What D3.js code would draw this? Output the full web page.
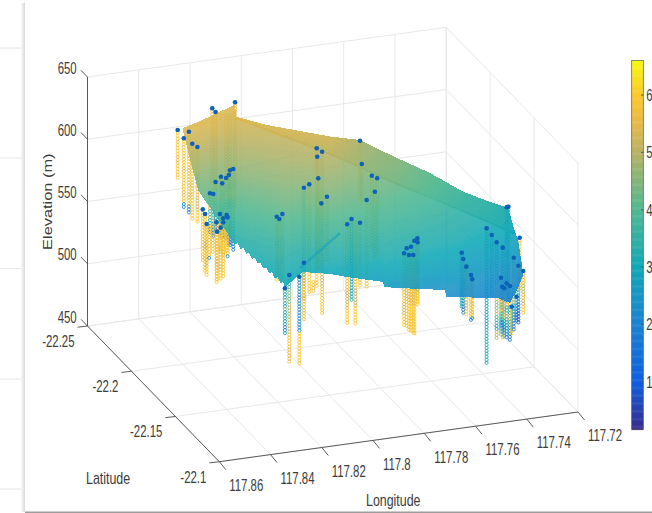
<!DOCTYPE html>
<html><head><meta charset="utf-8">
<script src="https://cdn.jsdelivr.net/npm/d3@7"></script>
<style>html,body{margin:0;padding:0;background:#fff;overflow:hidden}svg{display:block}text{font-family:"Liberation Sans",Arial,sans-serif;fill:#3c3c3c}</style>
</head><body><div id="chart"></div>
<script>
// ---- axis ticks
const lonTicks=[117.86,117.84,117.82,117.8,117.78,117.76,117.74,117.72];
const latTicks=[-22.25,-22.2,-22.15,-22.1];
const zTicks=[450,500,550,600,650];
const colorTicks=[1,2,3,4,5,6];
// ---- colour bar reading: value -> colour
const colorStopValues=[0.17,1,2,3,4,5,5.5,6,6.6];
const colorStopColors=["#3a2b8e","#0d5ee0","#1a82d2","#10a8b8","#50b890","#b8b264","#e8b848","#fbc82c","#f8f812"];
// ---- surface edges [lon, lat, elevation, colour value]
const mainTopEdge=[
[117.8330,-22.22,623.1,5.4],[117.8272,-22.22,626.3,5.4],[117.8205,-22.22,630.8,5.4],[117.8139,-22.22,635.4,5.4],
[117.8127,-22.22,635.8,5.4],[117.8123,-22.22,626.1,5.3],[117.8037,-22.22,617.2,5.2],
[117.8035,-22.19,630.5,5.1],[117.7965,-22.19,622.9,5.05],[117.7859,-22.19,611.4,5.0],[117.7793,-22.19,603.9,4.75],[117.7652,-22.19,586.3,4.35],
[117.7513,-22.16,583.2,3.65],[117.7307,-22.16,559.6,3.05],[117.7267,-22.16,554.5,2.95],[117.7240,-22.16,552.1,2.9],[117.7228,-22.16,545.4,2.7],[117.7209,-22.16,519.1,2.4]];
const mainBottomEdge=[
[117.8330,-22.22,620.7,5.4],[117.8272,-22.22,571.7,4.3],[117.8205,-22.22,549.7,3.8],[117.8139,-22.22,527.7,3.35],
[117.8128,-22.22,524.0,3.3],[117.8117,-22.22,524.4,3.3],[117.8106,-22.22,519.6,3.25],[117.8094,-22.22,519.9,3.25],[117.8083,-22.22,515.0,3.2],[117.8072,-22.22,515.4,3.2],
[117.8061,-22.22,510.5,3.15],[117.8050,-22.22,510.8,3.15],[117.8039,-22.22,506.0,3.1],[117.8028,-22.22,506.3,3.1],[117.8017,-22.22,501.4,3.05],[117.8005,-22.22,501.8,3.05],
[117.7995,-22.22,496.9,3.0],[117.7983,-22.22,497.3,3.0],[117.7972,-22.22,492.4,3.0],[117.7961,-22.22,492.8,2.95],[117.7950,-22.22,487.9,2.95],[117.7939,-22.22,488.2,2.95],[117.7932,-22.22,484.1,2.95],
[117.8068,-22.16,543.6,3.0],[117.7962,-22.16,539.0,2.95],[117.7896,-22.16,534.7,2.9],[117.7755,-22.16,526.7,2.7],[117.7751,-22.16,522.5,2.7],[117.7689,-22.16,519.9,2.6],
[117.7513,-22.16,513.3,2.4],[117.7509,-22.16,507.6,2.35],[117.7307,-22.16,501.0,2.05],[117.7260,-22.16,495.7,2.0],[117.7232,-22.16,505.3,2.0],[117.7209,-22.16,515.9,2.2]];
const bandTopEdge=[
[117.8119,-22.22,626.0,5.4],[117.8105,-22.19,640.9,5.35],[117.7859,-22.19,624.7,5.25],[117.7742,-22.19,618.5,4.85],[117.7691,-22.19,611.7,4.7],[117.7598,-22.19,600.0,4.5],
[117.7572,-22.16,609.0,4.1],[117.7443,-22.16,590.3,3.7],[117.7326,-22.16,577.9,3.4],[117.7267,-22.16,572.2,3.2],[117.7240,-22.16,552.1,3.0]];
const bandBottomEdge=[
[117.8119,-22.22,625.6,5.4],[117.8105,-22.19,637.7,5.25],[117.7859,-22.19,611.4,5.0],[117.7742,-22.19,597.7,4.7],[117.7691,-22.19,591.0,4.5],[117.7598,-22.19,579.9,4.3],
[117.7572,-22.16,590.5,3.95],[117.7443,-22.16,575.6,3.5],[117.7326,-22.16,561.8,3.25],[117.7267,-22.16,554.5,3.05],[117.7240,-22.16,551.7,3.0]];
// ---- fold lines on the surface [lon1, elev1, lon2, elev2, colour value, width, opacity] at lat -22.16
const surfaceFolds=[[117.8079,547.1,117.7923,570.8,2.7,2.6,0.5],[117.8313,634.1,117.8091,638.2,4.0,0.8,0.16],[117.7506,579.8,117.7506,514.7,2.0,0.8,0.16]];
// ---- colour sequences down a borehole
const Y=[6,5.8,6,5.6,6,5.9];
const YO=[5.5,5.9,5,5.7,5.2,6];
const YB=[6,5.8,6,5.7,6,5.5,6,5.8,6,5.6,6,2.2];
const T=[3,3.2,2.9,3.1];
const BY=[2,2.3,1.9,2.5,2.1,2.3,2,6,6,5.8,6];
const TM=[3.5,3,4.2,3.2,4.6,3,3.4,2.6,1.9,3];
const GY=[3.5,4.5,5,5.3,5.8,5.6];
const M=[5,4.2,5.5,3.4,4.5,3,2.5,1.8];
const RM=[5,5,5,4.5,5.5,5,4.5,5.5,4,3,2,2.5,4.5];
const RT=[3,3,3,3,3,3,5.5,5.5,4.5,5,3.5,2.5,5];
const MP=[5,4,3.2,2.2,1,0.8];
const B=[2,2.3,1.9,2.4,2.8];
// ---- boreholes [lon, top elev, bottom elev, has cap, colour sequence]
const leftWellLat=-22.22;
const leftWells=[
[117.8351,622.1,582.0,1,Y],[117.8307,619.5,554.2,1,YB],[117.8327,614.8,557.2,1,YB],[117.8294,609.5,547.4,1,Y],[117.8274,606.3,545.2,1,YO],
[117.8216,635.7,566.1,1,YO],[117.8203,632.4,569.7,1,YO],[117.8127,638.0,553.9,1,YO],[117.8162,628.8,556.5,0,YO],[117.8147,628.3,556.1,0,YO],
[117.8182,579.8,533.0,1,M],[117.8162,578.2,528.4,1,M],[117.8151,580.3,524.0,1,M],[117.8134,584.6,519.6,1,M],[117.8147,583.9,521.5,1,M],[117.8177,574.3,528.8,1,M],[117.8225,567.7,534.2,1,M],[117.8212,566.8,531.4,1,M],[117.8203,576.1,537.6,1,M],
[117.8253,555.6,513.3,1,Y],[117.8244,551.6,505.0,1,Y],[117.8238,543.4,501.6,1,YO],[117.8199,543.6,494.1,1,YO],[117.8197,536.1,495.7,1,Y],[117.8183,538.9,497.7,1,YO],[117.8173,542.9,499.0,1,Y],[117.8156,546.4,513.7,1,YB],[117.8186,550.0,521.0,1,Y],[117.8173,546.1,516.6,1,Y],[117.8160,548.4,518.7,1,Y],
[117.8228,542.3,515.8,0,YB],[117.8214,541.9,520.2,0,Y]];
const rightWellLat=-22.16;
const rightWells=[
[117.8014,641.4,529.2,1,YO],[117.7993,638.1,506.9,1,YO],[117.8012,634.6,543.6,1,YO],[117.8008,617.1,543.5,1,YO],[117.8043,613.3,526.8,1,Y],[117.8064,611.2,504.9,1,GY],[117.7974,601.4,550.6,1,YO],[117.7996,596.7,547.2,1,YO],
[117.8170,590.9,540.1,1,YO],[117.8160,588.8,539.8,1,YO],[117.8148,592.5,539.5,1,YO],[117.8064,550.9,521.0,1,GY],
[117.8138,532.5,495.0,1,TM],[117.8121,542.7,472.8,1,GY],[117.8082,540.2,469.3,1,BY],[117.8027,534.4,526.4,0,Y],
[117.7895,577.0,496.1,1,YO],[117.7878,580.7,515.7,1,B],[117.7863,577.9,495.2,0,YO],[117.7845,576.8,524.4,1,Y],[117.7845,642.7,595.1,1,YO],[117.7838,623.8,590.9,1,YO],[117.7799,613.3,553.6,1,YO],[117.7778,610.6,549.0,1,YO],[117.7787,600.1,545.2,1,YO],[117.7819,594.3,523.7,1,Y],
[117.7673,547.4,488.2,1,YO],[117.7654,545.4,485.2,1,Y],[117.7637,545.0,480.7,1,Y],[117.7663,551.1,487.9,1,Y],[117.7646,551.9,483.4,1,Y],[117.7633,556.3,480.6,1,Y],[117.7621,557.9,504.4,1,YO],[117.7620,554.7,505.9,1,YO],
[117.7448,541.4,497.0,1,T],[117.7442,536.2,492.8,1,M],[117.7430,529.7,489.3,1,YO],[117.7412,522.5,484.7,1,YB],[117.7407,518.9,486.2,1,YB],
[117.7351,558.2,450.1,1,T],[117.7331,552.3,503.3,1,T],[117.7312,545.9,469.0,1,RT],[117.7288,540.9,466.7,1,RT],[117.7295,517.0,471.0,1,RM],[117.7290,509.6,474.8,1,RM],[117.7282,508.1,468.2,1,RM],[117.7273,511.8,466.3,1,M],[117.7260,509.3,465.9,1,M],[117.7253,492.5,469.8,1,YO],[117.7245,531.6,472.0,1,M],[117.7234,500.0,478.8,1,MP],[117.7227,524.7,478.7,1,MP],[117.7222,547.0,505.0,1,YO],[117.7208,519.9,486.1,1,YO],[117.7266,573.2,498.3,1,T],[117.7273,572.9,506.5,1,T]];
const capColor="#0d62b8";
// ---- window furniture
const panelLineY=[48,158,268.5,379,489];

const W=652,H=513;
const svg=d3.select("#chart").append("svg").attr("width",W).attr("height",H);
const defs=svg.append("defs");
defs.append("filter").attr("id","soft").attr("x","-5%").attr("y","-5%").attr("width","110%").attr("height","110%")
  .append("feGaussianBlur").attr("stdDeviation",0.55);
const sg=defs.append("linearGradient").attr("id","edge");
sg.append("stop").attr("offset","0").attr("stop-color","#fafafa");
sg.append("stop").attr("offset","1").attr("stop-color","#d9d9d9");

// oblique axes of the box
const xLon=d3.scaleLinear().domain([117.86,117.72]).range([87.5,446.2]);
const yLon=d3.scaleLinear().domain([117.86,117.72]).range([0,-49.7]);
const xLat=d3.scaleLinear().domain([-22.25,-22.1]).range([0,131.8]);
const yLat=d3.scaleLinear().domain([-22.25,-22.1]).range([0,135.7]);
const yZ=d3.scaleLinear().domain([450,650]).range([326,77]);
const proj=(lon,lat,z)=>[xLon(lon)+xLat(lat),yZ(z)+yLon(lon)+yLat(lat)];
const color=d3.scaleLinear().domain(colorStopValues).range(colorStopColors).clamp(true);

// window furniture
const chrome=svg.append("g");
chrome.selectAll("line.p").data(panelLineY).join("line").attr("class","p").attr("x1",0).attr("x2",22).attr("y1",d=>d).attr("y2",d=>d).attr("stroke","#e6e6e6");
chrome.append("rect").attr("x",21).attr("y",3).attr("width",4).attr("height",509).attr("fill","url(#edge)");
chrome.append("rect").attr("x",25).attr("y",511.5).attr("width",627).attr("height",1.5).attr("fill","#9c9c9c");

// grid
const grid=svg.append("g").attr("stroke","#e8e8e8").attr("stroke-width",1).attr("fill","none");
const seg=(a,b)=>grid.append("line").attr("x1",a[0]).attr("y1",a[1]).attr("x2",b[0]).attr("y2",b[1]);
const lonA=lonTicks[0],lonB=lonTicks[lonTicks.length-1],latA=latTicks[0],latB=latTicks[latTicks.length-1],zA=zTicks[0],zB=zTicks[zTicks.length-1];
lonTicks.forEach(l=>{seg(proj(l,latA,zA),proj(l,latA,zB));seg(proj(l,latA,zA),proj(l,latB,zA));});
latTicks.forEach(l=>{seg(proj(lonB,l,zA),proj(lonB,l,zB));seg(proj(lonA,l,zA),proj(lonB,l,zA));});
zTicks.forEach(z=>{seg(proj(lonA,latA,z),proj(lonB,latA,z));seg(proj(lonB,latA,z),proj(lonB,latB,z));});

// marks
const marks=svg.append("g").attr("filter","url(#soft)");
const wellG=marks.append("g").attr("fill","none").attr("stroke-width",0.85);
const STEP=2.4;
function drawWells(list,lat){
  list.forEach(w=>{
    const [lon,top,bottom,,seq]=w;
    const depths=d3.range(top,bottom,-STEP);
    wellG.append("g").selectAll("circle").data(depths).join("circle")
      .attr("cx",d=>proj(lon,lat,d)[0]).attr("cy",d=>proj(lon,lat,d)[1]).attr("r",1.55)
      .attr("stroke",d=>color(seq[Math.min(seq.length-1,Math.floor((top-d)/(top-bottom)*seq.length))]));
  });
}
drawWells(leftWells,leftWellLat);
drawWells(rightWells,rightWellLat);

function edgeScales(edge){
  const p=edge.map(e=>proj(e[0],e[1],e[2]));
  const xs=p.map(d=>d[0]);
  return {x0:xs[0],x1:xs[xs.length-1],
    y:d3.scaleLinear().domain(xs).range(p.map(d=>d[1])),
    v:d3.scaleLinear().domain(xs).range(edge.map(e=>e[3]))};
}
function drawSheet(topEdge,botEdge,opacity,overlap){
  const a=edgeScales(topEdge),b=edgeScales(botEdge);
  const buckets=new Map();
  const x0=Math.round(Math.max(a.x0,b.x0)),x1=Math.round(Math.min(a.x1,b.x1));
  for(let x=x0;x<x1;x++){
    const cx=x+0.5,yt=Math.round(a.y(cx)),yb=Math.round(b.y(cx))+overlap,vt=a.v(cx),vb=b.v(cx);
    if(yb<=yt)continue;
    for(let y=yt;y<yb;y+=2){
      const h=Math.min(2,yb-y),f=(y+h/2-yt)/(yb-yt),val=vt+(vb-vt)*Math.pow(f,1.2);
      const k=Math.round(val*16);
      if(!buckets.has(k))buckets.set(k,[]);
      buckets.get(k).push(`M${x} ${y}h1v${h}h-1z`);
    }
  }
  const g=marks.append("g").attr("opacity",opacity).attr("shape-rendering","crispEdges");
  g.selectAll("path").data([...buckets.entries()]).join("path")
    .attr("d",d=>d[1].join("")).attr("fill",d=>color(d[0]/16));
}
drawSheet(mainTopEdge,mainBottomEdge,0.88,0);
drawSheet(bandTopEdge,bandBottomEdge,0.94,2);

surfaceFolds.forEach(f=>{
  const a=proj(f[0],rightWellLat,f[1]),b=proj(f[2],rightWellLat,f[3]);
  marks.append("line").attr("x1",a[0]).attr("y1",a[1]).attr("x2",b[0]).attr("y2",b[1])
    .attr("stroke",color(f[4])).attr("stroke-width",f[5]).attr("opacity",f[6]);
});

const capG=marks.append("g");
function drawCaps(list,lat){
  capG.append("g").selectAll("circle").data(list.filter(w=>w[3])).join("circle")
    .attr("cx",d=>proj(d[0],lat,d[1])[0]).attr("cy",d=>proj(d[0],lat,d[1])[1]).attr("r",2.3).attr("fill",capColor);
}
drawCaps(leftWells,leftWellLat);
drawCaps(rightWells,rightWellLat);

// axes
const axisG=svg.append("g").attr("stroke","#4a4a4a").attr("stroke-width",0.9).attr("fill","none");
const al=(a,b)=>axisG.append("line").attr("x1",a[0]).attr("y1",a[1]).attr("x2",b[0]).attr("y2",b[1]);
al(proj(lonA,latA,zA),proj(lonA,latA,zB));
al(proj(lonA,latA,zA),proj(lonA,latB,zA));
al(proj(lonA,latB,zA),proj(lonB,latB,zA));
const add=(p,dx,dy)=>[p[0]+dx,p[1]+dy];
zTicks.forEach(z=>{const p=proj(lonA,latA,z);al(p,add(p,-6.5,-6.7));});
latTicks.forEach(l=>{const p=proj(lonA,l,zA);al(p,add(p,-10,1.2));});
lonTicks.forEach(l=>{const p=proj(l,latB,zA);al(p,add(p,6.5,8));});

const label=(x,y,s,anchor,size,sy)=>svg.append("text").attr("transform",`translate(${x},${y}) scale(1,${sy})`)
  .attr("text-anchor",anchor).attr("dy","0.36em").attr("font-size",size).text(s);
const TICK=11.4,TS=1.46;
zTicks.forEach(z=>{const p=proj(lonA,latA,z);label(76.7,p[1]-9.3,String(z),"end",TICK,TS);});
latTicks.forEach(l=>{const p=proj(lonA,l,zA);label(p[0]-13,p[1]+15,String(l),"end",TICK,TS);});
lonTicks.forEach(l=>{const p=proj(l,latB,zA);label(p[0]+10,p[1]+23.3,String(l),"start",TICK,TS);});
label(86,478,"Latitude","start",12.4,1.4);
label(366,500,"Longitude","start",12.4,1.4);
svg.append("text").attr("transform","translate(47.7,201.7) scale(1,1.3) rotate(-90)")
  .attr("text-anchor","middle").attr("dy","0.36em").attr("font-size",12.6).text("Elevation (m)");

// colour bar
const barY=d3.scaleLinear().domain([colorTicks[0],colorTicks[5]]).range([381.7,95]);
const barV=d3.range(0.17,6.6,0.02);
const bar=svg.append("g");
bar.selectAll("rect").data(barV).join("rect").attr("x",631.7).attr("width",11.6)
  .attr("y",d=>barY(d)-0.8).attr("height",1.6).attr("fill",d=>color(d));
bar.append("rect").attr("x",631.7).attr("y",barY(6.6)).attr("width",11.6).attr("height",barY(0.17)-barY(6.6))
  .attr("fill","none").attr("stroke","#5c5c5c").attr("stroke-width",0.7);
colorTicks.forEach(v=>{
  bar.append("line").attr("x1",641).attr("x2",643.3).attr("y1",barY(v)).attr("y2",barY(v)).attr("stroke","#555");
  label(646.3,barY(v),String(v),"start",TICK,TS);
});
</script></body></html>
